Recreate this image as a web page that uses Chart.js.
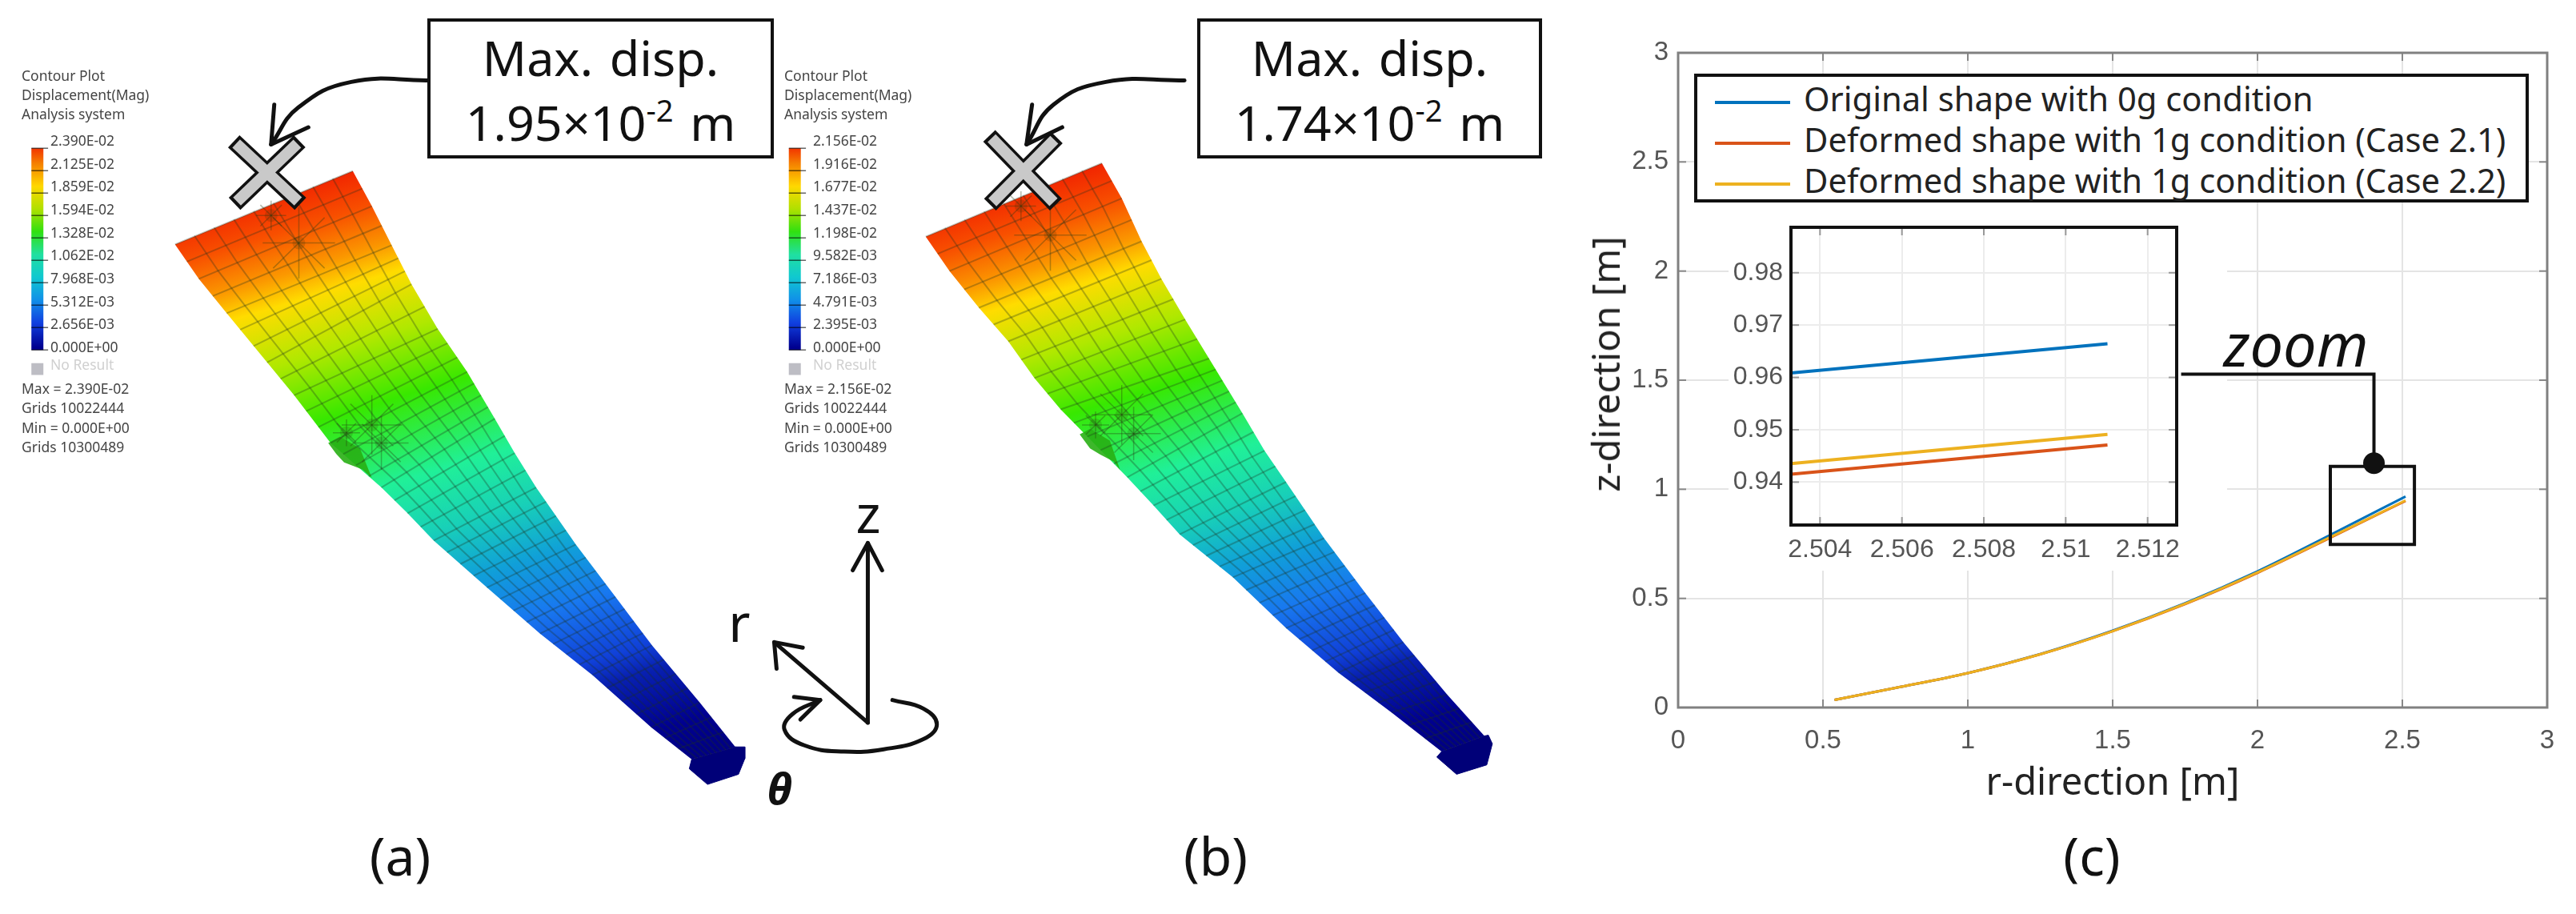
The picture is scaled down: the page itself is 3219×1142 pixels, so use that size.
<!DOCTYPE html>
<html lang="en">
<head>
<meta charset="UTF-8">
<title>Max displacement and deformed shape</title>
<script src="https://cdn.jsdelivr.net/npm/chart.js"></script>
<style>
    html, body { margin: 0; padding: 0; background: #fff; }
    #page { position: relative; width: 3219px; height: 1142px; overflow: hidden; font-family: "Noto Sans", sans-serif; color: #111; }
    canvas { position: absolute; }
    .t { position: absolute; white-space: nowrap; transform: translate(-50%, -50%); }
    .box { position: absolute; border: 4px solid #111; background: #fff; box-sizing: border-box; text-align: center; font-size: 61px; line-height: 81px; padding-top: 4px; word-spacing: 5px; }
    .box sup { font-size: 38px; line-height: 0; vertical-align: 24px; }
    .cb { position: absolute; white-space: nowrap; font-size: 17.5px; color: #444; line-height: 1; transform: translateY(-50%); }
    #legend { position: absolute; left: 2117px; top: 92px; width: 1043px; height: 161px; border: 4px solid #111; background: #fff; box-sizing: border-box; }
    #legend div.row { position: absolute; left: 22px; height: 50px; font-size: 41.7px; line-height: 50px; white-space: nowrap; color: #222; }
    #legend span.swatch { display: inline-block; width: 94px; height: 4px; margin-right: 17px; vertical-align: middle; }
</style>
</head>
<body>
<div id="page">
    <canvas id="chartC" width="1259" height="1142" style="left:1960px;top:0"></canvas>
    <canvas id="chartZoom" width="623" height="460" style="left:2160px;top:253px"></canvas>
    <canvas id="figura" width="3219" height="1142" style="left:0;top:0"></canvas>

    <div id="legend"></div>

    <div class="box" style="left:534px;top:23px;width:433px;height:175px">Max. disp.<br>1.95×10<sup>-2</sup> m</div>
    <div class="box" style="left:1496px;top:23px;width:431px;height:175px">Max. disp.<br>1.74×10<sup>-2</sup> m</div>

    <div class="t" style="left:1085px;top:640px;font-size:66px">z</div>
    <div class="t" style="left:924px;top:776px;font-size:66px">r</div>
    <div class="t" style="left:974px;top:984px;font-size:54px;font-weight:700;font-style:italic">θ</div>
    <div class="t" style="left:2869px;top:429px;font-size:74px;font-style:italic">zoom</div>
    <div class="t" style="left:2006px;top:455px;font-size:47px;color:#222;transform:translate(-50%,-50%) rotate(-90deg)">z-direction [m]</div>

    <div class="t" style="left:500px;top:1068px;font-size:66px">(a)</div>
    <div class="t" style="left:1519px;top:1068px;font-size:66px">(b)</div>
    <div class="t" style="left:2614px;top:1068px;font-size:66px">(c)</div>
</div>

<script>
    // Curva principal (painel c)
    var rValues = [0.54, 0.75, 1.0, 1.25, 1.5, 1.75, 2.0, 2.25, 2.511];
    var zOriginal = [0.035, 0.09, 0.158, 0.245, 0.352, 0.478, 0.624, 0.79, 0.967];
    var zCase21 = [0.035, 0.09, 0.158, 0.244, 0.35, 0.474, 0.617, 0.777, 0.947];
    var zCase22 = [0.035, 0.09, 0.158, 0.244, 0.35, 0.475, 0.619, 0.78, 0.949];

    // Detalhe ampliado
    var zoomR = [2.50329, 2.51102];
    var zoomOriginal = [0.96086, 0.96645];
    var zoomCase21 = [0.94152, 0.9471];
    var zoomCase22 = [0.94355, 0.9491];

    var seriesNames = ['Original shape with 0g  condition', 'Deformed shape with 1g  condition (Case 2.1)', 'Deformed shape with 1g  condition (Case 2.2)'];
    var seriesColors = ['#0072BD', '#D95319', '#EDB120'];
    var mainTicks = [0, 0.5, 1, 1.5, 2, 2.5, 3];
    var zoomRTicks = [2.504, 2.506, 2.508, 2.51, 2.512];
    var zoomZTicks = [0.94, 0.95, 0.96, 0.97, 0.98];

    // Barras de cor
    var colorbarA = ['2.390E-02', '2.125E-02', '1.859E-02', '1.594E-02', '1.328E-02', '1.062E-02', '7.968E-03', '5.312E-03', '2.656E-03', '0.000E+00'];
    var colorbarB = ['2.156E-02', '1.916E-02', '1.677E-02', '1.437E-02', '1.198E-02', '9.582E-03', '7.186E-03', '4.791E-03', '2.395E-03', '0.000E+00'];
    var summaryA = ['Max = 2.390E-02', 'Grids 10022444', 'Min = 0.000E+00', 'Grids 10300489'];
    var summaryB = ['Max = 2.156E-02', 'Grids 10022444', 'Min = 0.000E+00', 'Grids 10300489'];
    var headerLines = ['Contour Plot', 'Displacement(Mag)', 'Analysis system'];

    // Contorno das pas, da ponta ate a raiz (cada indice e uma corda)
    var wingALeftX = [207, 237, 272, 323, 357, 403, 467, 500, 533, 600, 667, 733, 807, 858];
    var wingALeftY = [299, 343, 387, 450, 492, 553, 610, 643, 678, 738, 797, 850, 917, 958];
    var wingARightX = [431, 455, 480, 505, 538, 575, 610, 635, 662, 712, 762, 808, 868, 913];
    var wingARightY = [205, 250, 300, 350, 407, 462, 522, 566, 610, 683, 750, 812, 885, 942];
    var hubAX = [913, 925, 925, 917, 878, 855, 858];
    var hubAY = [942, 942, 957, 977, 990, 970, 958];
    var bumpAX = [400, 410, 420, 443, 455, 440, 415];
    var bumpAY = [553, 567, 578, 587, 598, 560, 545];

    var wingBLeftX = [1153, 1183, 1220, 1257, 1290, 1323, 1407, 1440, 1473, 1540, 1607, 1673, 1740, 1803];
    var wingBLeftY = [289, 333, 380, 423, 470, 510, 597, 633, 670, 725, 790, 847, 898, 948];
    var wingBRightX = [1375, 1400, 1425, 1450, 1480, 1510, 1552, 1580, 1607, 1655, 1707, 1755, 1810, 1857];
    var wingBRightY = [195, 240, 295, 343, 395, 445, 515, 563, 603, 675, 745, 808, 875, 928];
    var hubBX = [1857, 1862, 1867, 1860, 1822, 1797, 1803];
    var hubBY = [928, 927, 938, 965, 977, 955, 948];
    var bumpBX = [1347, 1360, 1373, 1390, 1398, 1385, 1360];
    var bumpBY = [542, 560, 568, 577, 588, 550, 535];

    // Pontos com malha mais densa
    var starAX = [328, 363, 423, 455, 467];
    var starAY = [262, 297, 540, 530, 553];
    var starBX = [1273, 1310, 1367, 1400, 1415];
    var starBY = [250, 287, 530, 517, 541];
    var starSize = [0.5, 1.2, 0.45, 1.0, 0.9];
    var starDx = [-38, -27, 0, 27, 38, 27, 0, -27];
    var starDy = [0, 27, 38, 27, 0, -27, -38, -27];

    // Setas e marcadores
    var arrowAX = [529, 429, 362, 328];
    var arrowAY = [89, 91, 124, 171];
    var headAX = [332, 328, 375];
    var headAY = [120, 171, 149];
    var crossA = [281, 167, 365, 247, 364, 167, 282, 247];

    var arrowBX = [1479, 1380, 1314, 1280];
    var arrowBY = [89, 91, 120, 171];
    var headBX = [1287, 1280, 1325];
    var headBY = [120, 171, 149];
    var crossB = [1233, 160, 1317, 248, 1318, 162, 1234, 248];

    var axisZX = [1080, 1080];
    var axisZY = [911, 681];
    var axisZHeadX = [1061, 1080, 1098];
    var axisZHeadY = [716, 681, 716];
    var axisRX = [1080, 962];
    var axisRY = [911, 808];
    var axisRHeadX = [965, 962, 998];
    var axisRHeadY = [842, 808, 815];
    var thetaX = [1111, 1150, 1167, 1150, 1100, 1050, 1000, 975, 985, 1020];
    var thetaY = [882, 893, 913, 932, 945, 948, 940, 920, 900, 882];
    var thetaHeadX = [987, 1020, 995];
    var thetaHeadY = [878, 882, 907];

    var zoomBoxX = [2923, 3029, 3029, 2923, 2923];
    var zoomBoxY = [583, 583, 683, 683, 583];
    var zoomLeaderX = [2735, 2978, 2978];
    var zoomLeaderY = [465, 465, 579];

    Chart.defaults.animation = false;
    Chart.defaults.responsive = false;

    var RETO = { borderCapStyle: 'butt', borderJoinStyle: 'miter' };

    function pontos(xs, ys) {
        var lista = [];
        for (var i = 0; i < xs.length; i++) {
            lista.push({ x: xs[i], y: ys[i] });
        }
        return lista;
    }

    // Tira o espaco extra que o Chart.js reserva para os rotulos das pontas
    function semFolga(s, tamanho) {
        if (s.isHorizontal()) { s.height = tamanho; } else { s.width = tamanho; }
        s.paddingTop = 0; s.paddingBottom = 0; s.paddingLeft = 0; s.paddingRight = 0;
    }

    // Caixa e marcas internas no estilo do MATLAB
    var caixaEixos = {
        id: 'caixaEixos',
        afterDatasetsDraw: function (chart, args, opts) {
            var c = chart.ctx, a = chart.chartArea;
            c.save();
            c.strokeStyle = opts.tickColor;
            c.lineWidth = 2;
            chart.scales.x.ticks.forEach(function (t) {
                var px = chart.scales.x.getPixelForValue(t.value);
                c.beginPath(); c.moveTo(px, a.bottom); c.lineTo(px, a.bottom - 10); c.stroke();
                c.beginPath(); c.moveTo(px, a.top); c.lineTo(px, a.top + 10); c.stroke();
            });
            chart.scales.y.ticks.forEach(function (t) {
                var py = chart.scales.y.getPixelForValue(t.value);
                c.beginPath(); c.moveTo(a.left, py); c.lineTo(a.left + 10, py); c.stroke();
                c.beginPath(); c.moveTo(a.right, py); c.lineTo(a.right - 10, py); c.stroke();
            });
            c.strokeStyle = opts.color;
            c.lineWidth = opts.width;
            c.strokeRect(a.left, a.top, a.right - a.left, a.bottom - a.top);
            c.restore();
        }
    };

    var fundoBranco = {
        id: 'fundoBranco',
        beforeDraw: function (chart) {
            chart.ctx.save();
            chart.ctx.fillStyle = '#fff';
            chart.ctx.fillRect(0, 0, chart.width, chart.height);
            chart.ctx.restore();
        }
    };

    function serie(i, xs, ys, largura) {
        return {
            label: seriesNames[i],
            data: pontos(xs, ys),
            showLine: true,
            borderColor: seriesColors[i],
            backgroundColor: seriesColors[i],
            borderWidth: largura,
            pointRadius: 0,
            cubicInterpolationMode: 'monotone',
            order: 3 - i
        };
    }

    // Grafico (c)
    new Chart(document.getElementById('chartC'), {
        type: 'scatter',
        data: {
            datasets: [
                serie(0, rValues, zOriginal, 3),
                serie(1, rValues, zCase21, 3),
                serie(2, rValues, zCase22, 3)
            ]
        },
        plugins: [caixaEixos],
        options: {
            layout: { padding: { top: 66, right: 36, left: 0, bottom: 0 } },
            plugins: { legend: { display: false }, tooltip: { enabled: false }, caixaEixos: { color: '#808080', width: 3, tickColor: '#888' } },
            scales: {
                x: {
                    min: 0, max: 3,
                    afterFit: function (s) { semFolga(s, 258); },
                    afterBuildTicks: function (s) { s.ticks = mainTicks.map(function (v) { return { value: v }; }); },
                    grid: { color: '#e4e4e4', lineWidth: 2, drawTicks: false },
                    border: { display: false },
                    ticks: { color: '#555', padding: 22, maxRotation: 0, autoSkip: false, font: { family: 'Liberation Sans', size: 33 },
                        callback: function (v) { return String(v); } },
                    title: { display: true, text: 'r-direction [m]', color: '#222', font: { family: 'Noto Sans', size: 47 }, padding: { top: 0, bottom: 134 } }
                },
                y: {
                    min: 0, max: 3,
                    afterFit: function (s) { semFolga(s, 137); },
                    afterBuildTicks: function (s) { s.ticks = mainTicks.map(function (v) { return { value: v }; }); },
                    grid: { color: '#e4e4e4', lineWidth: 2, drawTicks: false },
                    border: { display: false },
                    ticks: { color: '#555', padding: 12, autoSkip: false, font: { family: 'Liberation Sans', size: 33 },
                        callback: function (v) { return String(v); } }
                }
            }
        }
    });

    // Detalhe ampliado
    new Chart(document.getElementById('chartZoom'), {
        type: 'scatter',
        data: {
            datasets: [
                serie(0, zoomR, zoomOriginal, 4),
                serie(1, zoomR, zoomCase21, 4),
                serie(2, zoomR, zoomCase22, 4)
            ]
        },
        plugins: [fundoBranco, caixaEixos],
        options: {
            layout: { padding: { top: 31, right: 63, left: 0, bottom: 0 } },
            plugins: { legend: { display: false }, tooltip: { enabled: false }, caixaEixos: { color: '#111', width: 4, tickColor: '#999' } },
            scales: {
                x: {
                    min: 2.50329, max: 2.51271,
                    afterFit: function (s) { semFolga(s, 57); },
                    afterBuildTicks: function (s) { s.ticks = zoomRTicks.map(function (v) { return { value: v }; }); },
                    grid: { color: '#ececec', lineWidth: 2, drawTicks: false },
                    border: { display: false },
                    ticks: { color: '#555', padding: 12, maxRotation: 0, autoSkip: false, font: { family: 'Liberation Sans', size: 32 },
                        callback: function (v) { return String(+v.toFixed(3)); } }
                },
                y: {
                    min: 0.9318, max: 0.98868,
                    afterFit: function (s) { semFolga(s, 78); },
                    afterBuildTicks: function (s) { s.ticks = zoomZTicks.map(function (v) { return { value: v }; }); },
                    grid: { color: '#ececec', lineWidth: 2, drawTicks: false },
                    border: { display: false },
                    ticks: { color: '#555', padding: 10, autoSkip: false, font: { family: 'Liberation Sans', size: 32 },
                        callback: function (v) { return v.toFixed(2); } }
                }
            }
        }
    });

    // Legenda do painel (c)
    var legenda = document.getElementById('legend');
    var legendaTop = [2, 53, 104];
    seriesNames.forEach(function (nome, i) {
        var row = document.createElement('div');
        row.className = 'row';
        row.style.top = legendaTop[i] + 'px';
        var swatch = document.createElement('span');
        swatch.className = 'swatch';
        swatch.style.background = seriesColors[i];
        row.appendChild(swatch);
        row.appendChild(document.createTextNode(nome));
        legenda.appendChild(row);
    });

    // Textos das barras de cor
    function escrever(texto, x, y, cor) {
        var d = document.createElement('div');
        d.className = 'cb';
        d.textContent = texto;
        d.style.left = x + 'px';
        d.style.top = y + 'px';
        if (cor) { d.style.color = cor; }
        document.getElementById('page').appendChild(d);
    }

    function textosBarra(x0, x1, rotulos, resumo) {
        headerLines.forEach(function (t, i) { escrever(t, x0, 95 + i * 24); });
        rotulos.forEach(function (t, i) { escrever(t, x1, 176 + i * 28.67); });
        escrever('No Result', x1, 456, '#d0d0d0');
        resumo.forEach(function (t, i) { escrever(t, x0, 486 + i * 24.3); });
    }
    textosBarra(27, 63, colorbarA, summaryA);
    textosBarra(980, 1016, colorbarB, summaryB);

    // Figura: pas, barras de cor, setas e marcadores
    var canvasFigura = document.getElementById('figura');
    var ctx = canvasFigura.getContext('2d');
    var jetPos = [0, 0.068, 0.127, 0.168, 0.25, 0.342, 0.458, 0.541, 0.618, 0.696, 0.785, 0.821, 0.906, 1];
    var jetCor = ['#f01c00', '#f85000', '#fb9800', '#ffdc00', '#b0e800', '#38e800', '#20f098', '#18d0b8', '#10a0d8', '#1878f0', '#1040d8', '#0820b0', '#000090', '#000078'];
    var barPos = [0, 0.11, 0.22, 0.33, 0.44, 0.55, 0.66, 0.77, 0.88, 1];
    var barCor = ['#f01000', '#f58000', '#ffd800', '#b0e000', '#30e010', '#20e0a0', '#10c8d0', '#1090e8', '#1040e0', '#000090'];

    function gradiente(x0, y0, x1, y1, pos, cores) {
        var g = ctx.createLinearGradient(x0, y0, x1, y1);
        pos.forEach(function (p, i) { g.addColorStop(p, cores[i]); });
        return g;
    }

    var figuras = [];

    function linha(xs, ys, cor, largura, extra) {
        var d = {
            data: pontos(xs, ys),
            showLine: true,
            pointRadius: 0,
            borderColor: cor,
            borderWidth: largura,
            borderCapStyle: 'round',
            borderJoinStyle: 'round',
            fill: false
        };
        for (var k in (extra || {})) { d[k] = extra[k]; }
        figuras.push(d);
    }

    // pa: contorno preenchido, malha de elementos e remendos de malha densa
    function pa(lx, ly, rx, ry, hx, hy, bx, by, sx, sy, grad) {
        var contornoX = rx.concat(lx.slice().reverse(), [rx[0]]);
        var contornoY = ry.concat(ly.slice().reverse(), [ry[0]]);
        linha(contornoX, contornoY, 'rgba(0,0,0,0)', 0, { fill: 'shape', backgroundColor: grad });
        linha(bx.concat(bx[0]), by.concat(by[0]), 'rgba(0,0,0,0)', 0, { fill: 'shape', backgroundColor: 'rgba(40,175,20,0.9)' });
        linha(hx.concat(hx[0]), hy.concat(hy[0]), '#000078', 1, { fill: 'shape', backgroundColor: '#000078' });

        var malha = 'rgba(30,50,30,0.3)';
        var colunas = 9;
        // linhas na direcao da corda, mais ou menos a cada 24 px
        for (var i = 0; i < lx.length - 1; i++) {
            var sub = Math.max(1, Math.round(Math.hypot(lx[i + 1] - lx[i], ly[i + 1] - ly[i]) / 24));
            for (var s = 0; s < sub; s++) {
                var f = s / sub;
                linha([lx[i] + (lx[i + 1] - lx[i]) * f, rx[i] + (rx[i + 1] - rx[i]) * f],
                      [ly[i] + (ly[i + 1] - ly[i]) * f, ry[i] + (ry[i + 1] - ry[i]) * f], malha, 2, RETO);
            }
        }
        // linhas na direcao da envergadura
        for (var c = 1; c < colunas; c++) {
            var u = c / colunas, cx = [], cy = [];
            for (var j = 0; j < lx.length; j++) {
                cx.push(lx[j] + (rx[j] - lx[j]) * u);
                cy.push(ly[j] + (ry[j] - ly[j]) * u);
            }
            linha(cx, cy, malha, 2);
        }
        // malha densa em volta dos pontos de fixacao
        sx.forEach(function (px, n) {
            starDx.forEach(function (dx, m) {
                linha([px, px + dx * starSize[n]], [sy[n], sy[n] + starDy[m] * starSize[n]], 'rgba(40,60,20,0.35)', 1.5, RETO);
            });
            linha([px], [sy[n]], 'rgba(0,0,0,0)', 0, { pointRadius: 8, pointBackgroundColor: 'rgba(30,40,0,0.16)', pointBorderWidth: 0 });
        });
    }

    pa(wingALeftX, wingALeftY, wingARightX, wingARightY, hubAX, hubAY, bumpAX, bumpAY, starAX, starAY,
        gradiente(431, 205, 681, 1040, jetPos, jetCor));
    pa(wingBLeftX, wingBLeftY, wingBRightX, wingBRightY, hubBX, hubBY, bumpBX, bumpBY, starBX, starBY,
        gradiente(1375, 195, 1625, 1030, jetPos, jetCor));

    function barra(x, xt) {
        linha([x, x], [176, 434], gradiente(0, 176, 0, 434, barPos, barCor), 15, RETO);
        for (var i = 0; i < 10; i++) {
            linha([x - 7.5, xt], [176 + i * 28.67, 176 + i * 28.67], 'rgba(0,0,0,0.6)', 1.5, RETO);
        }
        linha([x, x], [451, 466], '#bdbdc4', 15, RETO);
    }
    barra(33.5, 47);
    barra(988, 1002);

    function cruz(p) {
        linha([p[0], p[2]], [p[1], p[3]], '#111', 21, RETO);
        linha([p[4], p[6]], [p[5], p[7]], '#111', 21, RETO);
        linha([p[0] + 3, p[2] - 3], [p[1] + 3, p[3] - 3], '#c9c9c9', 14, RETO);
        linha([p[4] - 3, p[6] + 3], [p[5] + 3, p[7] - 3], '#c9c9c9', 14, RETO);
    }
    cruz(crossA);
    cruz(crossB);

    linha(arrowAX, arrowAY, '#111', 5, { tension: 0.45 });
    linha(headAX, headAY, '#111', 5);
    linha(arrowBX, arrowBY, '#111', 5, { tension: 0.45 });
    linha(headBX, headBY, '#111', 5);

    linha(axisZX, axisZY, '#111', 5);
    linha(axisZHeadX, axisZHeadY, '#111', 5);
    linha(axisRX, axisRY, '#111', 5);
    linha(axisRHeadX, axisRHeadY, '#111', 5);
    linha(thetaX, thetaY, '#111', 5, { tension: 0.45 });
    linha(thetaHeadX, thetaHeadY, '#111', 5);

    linha(zoomBoxX, zoomBoxY, '#111', 4, { borderCapStyle: 'square', borderJoinStyle: 'miter' });
    linha(zoomLeaderX, zoomLeaderY, '#111', 4, RETO);
    linha([2978], [579], '#111', 0, { pointRadius: 13.5, pointBackgroundColor: '#111', pointBorderWidth: 0 });

    // os datasets sao desenhados do ultimo para o primeiro
    figuras.reverse();

    new Chart(canvasFigura, {
        type: 'scatter',
        data: { datasets: figuras },
        options: {
            layout: { padding: 0 },
            plugins: { legend: { display: false }, tooltip: { enabled: false } },
            scales: {
                x: { display: false, min: 0, max: 3219 },
                y: { display: false, min: 0, max: 1142, reverse: true }
            }
        }
    });
</script>
</body>
</html>
